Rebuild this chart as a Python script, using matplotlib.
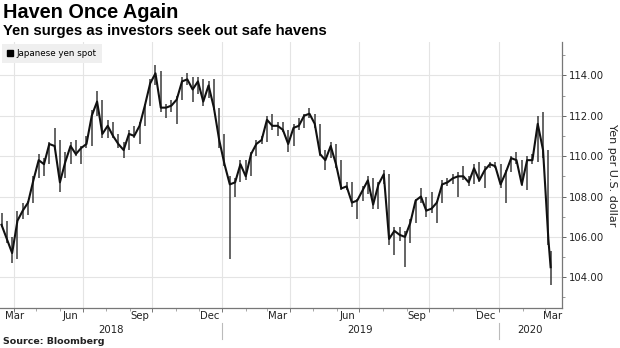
import matplotlib
matplotlib.use('Agg')
import matplotlib.pyplot as plt
import matplotlib.dates as mdates
import pandas as pd
from matplotlib.lines import Line2D
from matplotlib.ticker import MultipleLocator, FormatStrFormatter
from matplotlib.transforms import blended_transform_factory

# weekly bars (Friday closes), last bar is Mon 9 Mar 2020
weeks = list(pd.date_range('2018-03-16', '2020-03-06', freq='W-FRI')) + [pd.Timestamp('2020-03-09')]

highs = [107.2, 106.8, 106.0, 107.3, 107.7, 107.8, 109.0, 110.1, 109.9, 110.7,
         111.4, 110.8, 110.2, 110.7, 110.8, 110.5, 111.0, 112.3, 113.2, 112.8,
         111.8, 111.7, 111.1, 110.7, 111.3, 111.5, 111.7, 112.6, 113.8, 114.5,
         114.2, 112.6, 112.8, 113.0, 113.9, 114.1, 113.9, 113.9, 113.8, 113.7,
         113.8, 112.4, 111.1, 109.0, 108.9, 109.8, 109.8, 110.2, 110.8, 111.0,
         112.0, 112.1, 111.7, 111.7, 111.3, 111.6, 111.9, 112.1, 112.4, 112.1,
         111.6, 110.3, 110.7, 110.6, 109.8, 108.7, 108.7, 107.9, 108.5, 109.0,
         108.9, 108.7, 109.3, 109.1, 106.5, 106.5, 106.3, 106.9, 107.9, 108.4,
         108.0, 108.2, 107.8, 108.8, 108.9, 109.1, 109.2, 109.5, 109.0, 109.6,
         109.7, 109.5, 109.7, 109.7, 109.6, 109.3, 110.0, 110.2, 109.8, 110.0,
         110.1, 112.0, 112.2, 110.3, 105.3]
lows = [106.5, 105.7, 104.7, 104.9, 106.9, 107.1, 107.7, 108.9, 109.0, 109.6,
        110.3, 108.2, 108.9, 109.6, 110.0, 109.6, 110.4, 110.5, 112.0, 110.9,
        110.9, 110.9, 110.4, 109.9, 110.3, 110.9, 110.6, 111.5, 112.5, 113.5,
        112.2, 111.9, 112.2, 111.6, 112.8, 113.5, 112.7, 113.1, 112.5, 112.9,
        112.3, 110.4, 109.5, 104.9, 108.0, 108.7, 108.8, 109.0, 110.0, 110.6,
        110.7, 111.3, 111.0, 111.2, 110.2, 110.5, 111.3, 111.4, 111.9, 111.4,
        110.0, 109.3, 109.9, 109.4, 108.3, 108.3, 107.5, 106.9, 107.8, 108.1,
        107.4, 107.4, 108.6, 105.6, 105.1, 105.8, 104.5, 105.7, 106.7, 107.7,
        107.0, 107.2, 106.7, 107.7, 108.5, 108.6, 108.0, 108.8, 108.5, 108.6,
        108.7, 108.4, 109.4, 109.4, 108.4, 107.7, 109.2, 109.6, 108.5, 108.3,
        109.6, 109.7, 109.9, 105.6, 103.6]
closes = [106.6, 105.9, 105.2, 106.8, 107.3, 107.7, 108.8, 109.8, 109.6, 110.6,
          110.5, 108.7, 109.7, 110.5, 110.1, 110.4, 110.6, 112.0, 112.7, 111.1,
          111.5, 111.0, 110.6, 110.3, 111.1, 111.0, 111.5, 112.5, 113.6, 114.1,
          112.4, 112.4, 112.5, 112.8, 113.7, 113.8, 113.3, 113.7, 112.7, 113.5,
          112.4, 110.8, 109.6, 108.6, 108.7, 109.6, 109.0, 110.1, 110.6, 110.8,
          111.8, 111.5, 111.5, 111.3, 110.6, 111.4, 111.5, 112.0, 112.1, 111.6,
          110.1, 109.8, 110.5, 109.6, 108.4, 108.5, 107.7, 107.8, 108.3, 108.8,
          107.6, 108.6, 109.1, 105.9, 106.3, 106.1, 106.0, 106.7, 107.8, 108.0,
          107.3, 107.4, 107.7, 108.6, 108.7, 108.9, 109.0, 109.0, 108.7, 109.4,
          108.8, 109.3, 109.6, 109.5, 108.6, 109.2, 109.9, 109.8, 108.6, 109.8,
          109.8, 111.6, 110.3, 105.9, 104.5]

month_labels = ['Mar', 'Jun', 'Sep', 'Dec', 'Mar', 'Jun', 'Sep', 'Dec', 'Mar']
month_pos = ['2018-03-15', '2018-06-15', '2018-09-15', '2018-12-15', '2019-03-15',
             '2019-06-15', '2019-09-15', '2019-12-15', '2020-03-12']
year_labels = ['2018', '2019', '2020']
year_pos = ['2018-08-08', '2019-07-02', '2020-02-11']
year_breaks = ['2019-01-01', '2020-01-01']

fig = plt.figure(figsize=(6.2, 3.48), dpi=100)
ax = fig.add_axes([0.0, 1 - 308 / 348, 562 / 620, (308 - 42) / 348])

# high-low bars plus the close line
ax.vlines(weeks, lows, highs, color='#3a3a3a', lw=1.1)
ax.plot(weeks, closes, color='#111111', lw=1.5)

ax.set_xlim(pd.Timestamp('2018-03-14'), pd.Timestamp('2020-03-24'))
ax.set_ylim(102.48, 115.65)

ax.yaxis.tick_right()
ax.yaxis.set_major_locator(MultipleLocator(2))
ax.yaxis.set_minor_locator(MultipleLocator(1))
ax.yaxis.set_major_formatter(FormatStrFormatter('%.2f'))
ax.tick_params(axis='y', which='major', length=3, width=0.7, color='#666666',
               labelsize=7.3, labelcolor='#222222', pad=2)
ax.tick_params(axis='y', which='minor', length=2, width=0.6, color='#888888')
fig.text(612 / 620, 1 - 175 / 348, 'Yen per U.S. dollar', rotation=270, fontsize=8,
         color='#222222', ha='center', va='center')

ax.xaxis.set_major_locator(mdates.MonthLocator(bymonth=[1, 4, 7, 10]))
ax.xaxis.set_minor_locator(mdates.MonthLocator())
ax.xaxis.set_major_formatter(plt.NullFormatter())
ax.tick_params(axis='x', which='major', length=3, width=0.7, color='#777777')
ax.tick_params(axis='x', which='minor', length=2, width=0.6, color='#999999')

ax.grid(True, which='major', color='#e4e4e4', lw=0.8)
ax.set_axisbelow(True)

for s in ['top', 'left']:
    ax.spines[s].set_visible(False)
for s in ['right', 'bottom']:
    ax.spines[s].set_color('#777777')
    ax.spines[s].set_linewidth(0.9)

tr = blended_transform_factory(ax.transData, fig.transFigure)
for i, (lab, d) in enumerate(zip(month_labels, month_pos)):
    if i == 0:
        fig.text(5 / 620, 1 - 316 / 348, lab, ha='left', va='center', fontsize=7.3, color='#222222')
    else:
        ax.text(pd.Timestamp(d), 1 - 316 / 348, lab, transform=tr, ha='center', va='center',
                fontsize=7.3, color='#222222')
for lab, d in zip(year_labels, year_pos):
    ax.text(pd.Timestamp(d), 1 - 330 / 348, lab, transform=tr, ha='center', va='center',
            fontsize=7.3, color='#222222')
for d in year_breaks:
    ax.plot([pd.Timestamp(d)] * 2, [1 - 323 / 348, 1 - 339 / 348], transform=tr,
            color='#bbbbbb', lw=0.8, clip_on=False)

leg = ax.legend(handles=[Line2D([], [], marker='s', color='black', ls='none', markersize=4)],
                labels=['Japanese yen spot'], loc='upper left', fontsize=6.3, frameon=True,
                borderaxespad=0.2, handlelength=0.6, handletextpad=0.5, borderpad=0.6)
leg.get_frame().set_facecolor('#efefef')
leg.get_frame().set_edgecolor('none')
leg.get_frame().set_alpha(1)
leg.get_frame().set_boxstyle('square', pad=0)

fig.text(3 / 620, 1 - 13 / 348, 'Haven Once Again', fontsize=14.3, fontweight='bold',
         family='Liberation Sans', va='center', ha='left')
fig.text(3 / 620, 1 - 31 / 348, 'Yen surges as investors seek out safe havens', fontsize=10.7,
         fontweight='bold', family='Liberation Sans', va='center', ha='left')
fig.text(3 / 620, 1 - 342 / 348, 'Source: Bloomberg', fontsize=6.8, fontweight='bold',
         va='center', ha='left', color='#222222')

fig.savefig('out.png', dpi=100)
